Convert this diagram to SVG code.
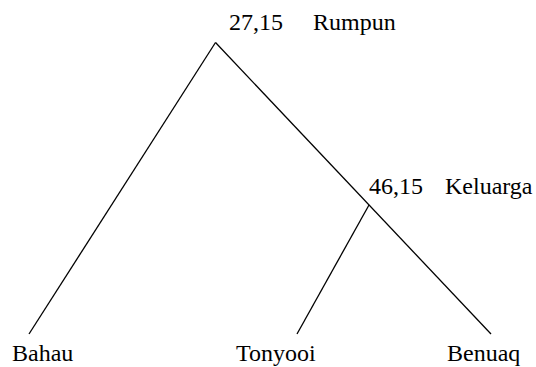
<svg xmlns="http://www.w3.org/2000/svg" width="536" height="367" viewBox="0 0 536 367">
<style>
text{font-family:"Liberation Serif","Times New Roman",serif;font-size:24px;fill:#000}
.e{stroke:#000;stroke-width:1.3;fill:none}
</style>
<rect width="536" height="367" fill="#fff"/>
<g id="connectors">
<line class="e" x1="215.5" y1="42.5" x2="29" y2="334"/>
<line class="e" x1="215.5" y1="42.5" x2="491" y2="334"/>
<line class="e" x1="369" y1="205" x2="297" y2="334"/>
</g>
<g id="rumpun"><text x="229" y="30">27,15</text><text x="313" y="30">Rumpun</text></g>
<g id="keluarga"><text x="369" y="194">46,15</text><text x="445" y="194">Keluarga</text></g>
<g id="bahau"><text x="12" y="361">Bahau</text></g>
<g id="tonyooi"><text x="236" y="361">Tonyooi</text></g>
<g id="benuaq"><text x="447" y="361">Benuaq</text></g>
</svg>
